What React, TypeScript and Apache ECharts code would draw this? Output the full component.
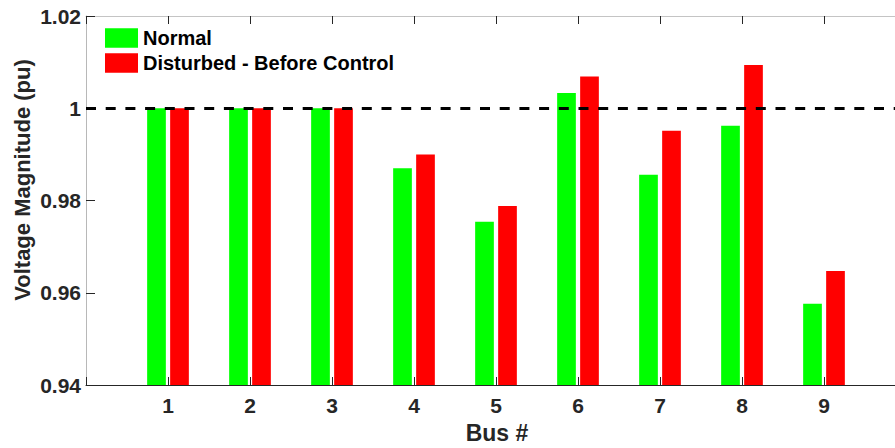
import React, { useEffect, useRef } from "react";
import * as echarts from "echarts";

// Bus voltage magnitudes (pu) for the 9-bus system
const buses = [1, 2, 3, 4, 5, 6, 7, 8, 9];
const normalPu = [1.0, 1.0, 1.0, 0.987, 0.9754, 1.0033, 0.9856, 0.9962, 0.9576];
const disturbedPu = [1.0, 1.0, 1.0, 0.99, 0.9788, 1.0069, 0.9951, 1.0094, 0.9647];
const seriesNames = ["Normal", "Disturbed - Before Control"];
const nominalPu = 1.0;
const yMin = 0.94;
const yMax = 1.02;
const yStep = 0.02;

const FONT = "'Liberation Sans', Arial, Helvetica, sans-serif";
const INK = "#262626";

// The axes box runs a little past the right edge of the figure,
// so the drawing surface is wider than the visible window.
const SURFACE_W = 930;
const SURFACE_H = 448;

export default function App() {
  const ref = useRef<HTMLDivElement>(null);

  useEffect(() => {
    if (!ref.current) return;
    const chart = echarts.init(ref.current, undefined, { renderer: "svg" });

    const gridLeft = 86;
    const gridTop = 16;
    const gridW = 820;
    const gridH = 369;

    chart.setOption({
      animation: false,
      backgroundColor: "#ffffff",
      grid: { left: gridLeft, top: gridTop, width: gridW, height: gridH, containLabel: false },
      legend: {
        orient: "vertical",
        left: 100,
        top: 23,
        itemWidth: 33,
        itemHeight: 19.5,
        itemGap: 5,
        icon: "rect",
        textStyle: { fontFamily: FONT, fontWeight: "bold", fontSize: 20, color: "#000" },
        data: seriesNames,
      },
      xAxis: [
        {
          type: "value",
          min: 0,
          max: 10,
          interval: 1,
          position: "bottom",
          axisLine: { show: true, onZero: false, lineStyle: { color: INK, width: 1 } },
          axisTick: { show: true, inside: true, length: 8, lineStyle: { color: INK } },
          axisLabel: {
            margin: 10,
            fontFamily: FONT,
            fontWeight: "bold",
            fontSize: 21,
            color: INK,
            formatter: (v: number) => (buses.includes(v) ? String(v) : ""),
          },
          splitLine: { show: false },
        },
        {
          type: "value",
          min: 0,
          max: 10,
          interval: 1,
          position: "top",
          axisLine: { show: true, onZero: false, lineStyle: { color: "#c4c4c4", width: 1 } },
          axisTick: { show: true, inside: true, length: 8, lineStyle: { color: INK } },
          axisLabel: { show: false },
          splitLine: { show: false },
        },
      ],
      yAxis: {
        type: "value",
        min: yMin,
        max: yMax,
        interval: yStep,
        axisLine: { show: true, onZero: false, lineStyle: { color: "#b8b8b8", width: 1 } },
        axisTick: { show: true, inside: true, length: 9, lineStyle: { color: INK } },
        axisLabel: {
          margin: 5,
          fontFamily: FONT,
          fontWeight: "bold",
          fontSize: 21,
          color: INK,
          formatter: (v: number) => String(Number(v.toFixed(2))),
        },
        splitLine: { show: false },
      },
      series: [
        {
          name: seriesNames[0],
          type: "bar",
          xAxisIndex: 0,
          barWidth: 18.7,
          barGap: "23%",
          itemStyle: { color: "#00ff00" },
          data: buses.map((b, i) => [b, normalPu[i]]),
        },
        {
          name: seriesNames[1],
          type: "bar",
          xAxisIndex: 0,
          barWidth: 18.7,
          barGap: "23%",
          itemStyle: { color: "#ff0000" },
          data: buses.map((b, i) => [b, disturbedPu[i]]),
          markLine: {
            silent: true,
            symbol: ["none", "none"],
            label: { show: false },
            lineStyle: { color: "#000", width: 3, type: [10, 9.7] },
            data: [{ yAxis: nominalPu }],
            z: 10,
          },
        },
      ],
      graphic: [
        {
          type: "text",
          x: 22,
          y: 180,
          rotation: Math.PI / 2,
          style: {
            text: "Voltage Magnitude (pu)",
            fontFamily: FONT,
            fontWeight: "bold",
            fontSize: 22,
            fill: INK,
            textAlign: "center",
            textVerticalAlign: "middle",
          },
        },
        {
          type: "text",
          x: 497,
          y: 433,
          style: {
            text: "Bus #",
            fontFamily: FONT,
            fontWeight: "bold",
            fontSize: 23,
            fill: INK,
            textAlign: "center",
            textVerticalAlign: "middle",
          },
        },
      ],
    });

    return () => chart.dispose();
  }, []);

  return (
    <div style={{ position: "fixed", left: 0, top: 0, width: 895, height: 448, overflow: "hidden", background: "#fff" }}>
      <div ref={ref} style={{ width: SURFACE_W, height: SURFACE_H }} />
    </div>
  );
}
